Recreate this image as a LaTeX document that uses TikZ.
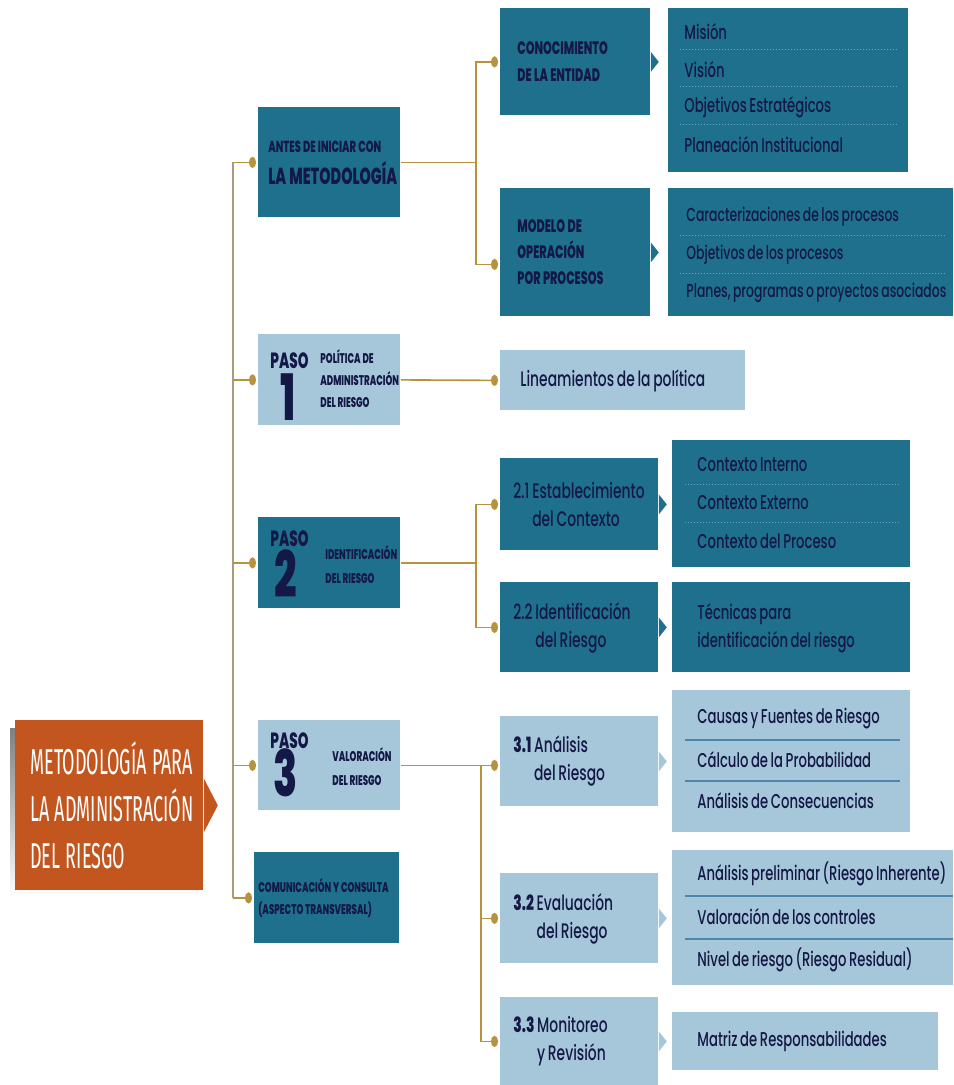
\documentclass[tikz,border=0pt]{standalone}
\usepackage{fontspec}
\setmainfont{Poppins}[FakeStretch=0.66, WordSpace=0.75]
\IfFontExistsTF{Poppins ExtraBold}
  {\newfontfamily\headfont{Poppins}[BoldFont=Poppins ExtraBold, FakeStretch=0.62, WordSpace=1.1]}
  {\newfontfamily\headfont{Poppins}[FakeStretch=0.62, WordSpace=1.1]}
\IfFontExistsTF{Poppins Medium}
  {\newfontfamily\medfont{Poppins Medium}[FakeStretch=0.66, WordSpace=0.75]}
  {\newfontfamily\medfont{Poppins}[FakeStretch=0.66, WordSpace=0.75]}
\newfontfamily\titlefont{Fira Sans}[FakeStretch=0.5, WordSpace=1.1]
\usetikzlibrary{arrows.meta}

\definecolor{tealbox}{RGB}{30,112,140}
\definecolor{skybox}{RGB}{166,199,217}
\definecolor{navy}{RGB}{20,24,70}
\definecolor{rust}{RGB}{194,86,30}
\definecolor{shade}{RGB}{150,190,215}
\definecolor{gold}{RGB}{184,146,62}
\definecolor{trunkc}{RGB}{170,155,125}
\definecolor{sepdark}{RGB}{110,165,190}
\definecolor{seplight}{RGB}{75,135,172}

\begin{document}
\begin{tikzpicture}[x=0.5pt, y=-0.5pt,
    box/.style={anchor=north west, inner sep=0pt},
    dark/.style={box, fill=tealbox},
    light/.style={box, fill=skybox},
    sz/.style 2 args={minimum width=#1*0.5pt, minimum height=#2*0.5pt},
    txt/.style={anchor=west, inner sep=0pt, text=navy, align=left},
    head/.style 2 args={font=\headfont\bfseries\fontsize{#1}{#2}\selectfont},
    sub/.style={font=\medfont\fontsize{10.5}{14}\selectfont},
    item/.style={txt, font=\medfont\fontsize{10}{14}\selectfont},
    pasolbl/.style={anchor=base west, inner sep=0pt, text=navy, head={11}{11}},
    pasonum/.style={anchor=base, inner sep=0pt, text=navy, head={32}{32}},
    pasottl/.style={txt, head={7}{#1}},
    link/.style={gold, line width=0.8pt, shorten >=1pt,
                 -{Ellipse[length=3.5pt,width=5.5pt]}},
    trunk/.style={trunkc, line width=0.7pt},
    sepd/.style={sepdark, line width=0.5pt, densely dotted},
    sepl/.style={seplight, line width=0.6pt}]

  \useasboundingbox (0,0) rectangle (953,1085);

  % main box
  \fill[shade] (10,728) rectangle (198,897);
  \node[box, fill=rust, sz={188}{170}] (main) at (15,720) {};
  \fill[rust] ([yshift=13.5pt]main.east) -- ([xshift=7pt]main.east)
              -- ([yshift=-13.5pt]main.east) -- cycle;
  \node[txt, text=white, font=\titlefont\fontsize{18}{23.5}\selectfont] (main-t)
        at ([xshift=7.5pt]main.west) {METODOLOGÍA PARA\\LA ADMINISTRACIÓN\\DEL RIESGO};

  % first column
  \node[dark, sz={142}{110}] (antes) at (258,107) {};
  \node[light, sz={142}{91}] (paso1) at (258,334) {};
  \node[dark, sz={142}{91}] (paso2) at (258,517) {};
  \node[light, sz={142}{90}] (paso3) at (258,720) {};
  \node[dark, sz={145}{91}] (com) at (254,852) {};

  \node[txt, head={8}{16}] (antes-t) at ([xshift=5pt]antes.west)
        {ANTES DE INICIAR CON\\{\fontsize{11.6}{16}\selectfont LA METODOLOGÍA}};
  \node[txt, head={7}{11}] (com-t) at ([xshift=2pt]com.west)
        {COMUNICACIÓN Y CONSULTA\\(ASPECTO TRANSVERSAL)};

  \node[pasolbl] (p1w) at ([shift={(12,34)}]paso1.north west) {PASO};
  \node[pasonum] (p1n) at ([shift={(30,86)}]paso1.north west) {1};
  \node[pasottl=11] (p1t) at ([shift={(62,45)}]paso1.north west)
        {POLÍTICA DE\\ADMINISTRACIÓN\\DEL RIESGO};
  \node[pasolbl] (p2w) at ([shift={(12,29)}]paso2.north west) {PASO};
  \node[pasonum] (p2n) at ([shift={(28,80)}]paso2.north west) {2};
  \node[pasottl=12] (p2t) at ([shift={(67,48)}]paso2.north west)
        {IDENTIFICACIÓN\\DEL RIESGO};
  \node[pasolbl] (p3w) at ([shift={(12,28)}]paso3.north west) {PASO};
  \node[pasonum] (p3n) at ([shift={(28,76)}]paso3.north west) {3};
  \node[pasottl=12] (p3t) at ([shift={(74,47)}]paso3.north west)
        {VALORACIÓN\\DEL RIESGO};

  % second column
  \node[dark, sz={150}{107}] (ent) at (500,8) {};
  \node[dark, sz={150}{128}] (ope) at (500,188) {};
  \node[light, sz={245}{60}] (lin) at (500,350) {};
  \node[dark, sz={158}{92}] (ctx) at (500,458) {};
  \node[dark, sz={158}{90}] (idr) at (500,582) {};
  \node[light, sz={158}{90}] (ana) at (500,716) {};
  \node[light, sz={158}{90}] (eva) at (500,873) {};
  \node[light, sz={158}{88}] (mon) at (500,997) {};

  \foreach \n/\c in {ent/tealbox, ope/tealbox, ctx/tealbox, idr/tealbox,
                     ana/skybox, eva/skybox, mon/skybox}
    \fill[\c] ([yshift=5pt]\n.east) -- ([xshift=4pt]\n.east)
              -- ([yshift=-5pt]\n.east) -- cycle;

  \node[txt, head={9}{13.5}] (ent-t) at ([xshift=8.5pt]ent.west) {CONOCIMIENTO\\DE LA ENTIDAD};
  \node[txt, head={9}{13}] (ope-t) at ([xshift=8.5pt]ope.west) {MODELO DE\\OPERACIÓN\\POR PROCESOS};
  \node[txt, sub] (lin-t) at ([xshift=10pt]lin.west) {Lineamientos de la política};
  \node[txt, sub] (ctx-t) at ([xshift=6.5pt]ctx.west)
        {2.1 Establecimiento\\\phantom{2.1 }del Contexto};
  \node[txt, sub] (idr-t) at ([xshift=6.5pt]idr.west)
        {2.2 Identificación\\\phantom{2.2 }del Riesgo};
  \node[txt, sub] (ana-t) at ([xshift=6.5pt]ana.west)
        {\textbf{3.1} Análisis\\\phantom{\textbf{3.1} }del Riesgo};
  \node[txt, sub] (eva-t) at ([xshift=6.5pt]eva.west)
        {\textbf{3.2} Evaluación\\\phantom{\textbf{3.2} }del Riesgo};
  \node[txt, sub] (mon-t) at ([xshift=6.5pt]mon.west)
        {\textbf{3.3} Monitoreo\\\phantom{\textbf{3.3} }y Revisión};

  % third column
  \node[dark, sz={240}{164}] (l1) at (668,8) {};
  \node[dark, sz={285}{128}] (l2) at (668,188) {};
  \node[dark, sz={238}{127}] (l3) at (672,440) {};
  \node[dark, sz={238}{90}] (l4) at (672,582) {};
  \node[light, sz={238}{142}] (l5) at (672,690) {};
  \node[light, sz={281}{135}] (l6) at (672,850) {};
  \node[light, sz={266}{58}] (l7) at (672,1012) {};

  \foreach \y in {50,87,125} \draw[sepd] (680,\y) -- (897,\y);
  \foreach \y in {236,274} \draw[sepd] (680,\y) -- (945,\y);
  \foreach \y in {484,522} \draw[sepd] (685,\y) -- (900,\y);
  \foreach \y in {740,781} \draw[sepl] (685,\y) -- (900,\y);
  \foreach \y in {896,939} \draw[sepl] (685,\y) -- (953,\y);

  \foreach \t [count=\i] in {Misión, Visión, Objetivos Estratégicos, Planeación Institucional}
    \node[item] (l1-\i) at (684,{-5.5+37.5*\i}) {\t};
  \foreach \t [count=\i] in {Caracterizaciones de los procesos, Objetivos de los procesos,
                             {Planes, programas o proyectos asociados}}
    \node[item, font=\medfont\fontsize{9.4}{14}\selectfont] (l2-\i) at (686,{179+38*\i}) {\t};
  \foreach \t [count=\i] in {Contexto Interno, Contexto Externo, Contexto del Proceso}
    \node[item] (l3-\i) at (697,{427+38*\i}) {\t};
  \node[item] (l4-1) at (697,628) {Técnicas para\\identificación del riesgo};
  \foreach \t [count=\i] in {Causas y Fuentes de Riesgo, Cálculo de la Probabilidad,
                             Análisis de Consecuencias}
    \node[item] (l5-\i) at (697,{678+41*\i}) {\t};
  \foreach \t [count=\i] in {Análisis preliminar (Riesgo Inherente), Valoración de los controles,
                             Nivel de riesgo (Riesgo Residual)}
    \node[item] (l6-\i) at (697,{831+43*\i}) {\t};
  \node[item] (l7-1) at (697,1041) {Matriz de Responsabilidades};

  % connectors
  \coordinate (tk) at (233,0);
  \draw[trunk] (antes.west -| tk) -- (com.west -| tk);
  \foreach \n in {antes,paso1,paso2,paso3,com}
    \draw[link] (\n.west -| tk) -- (\n.west);

  \draw[link] (antes.east) -- ++(75,0) |- (ent.west);
  \draw[link] (antes.east) -- ++(75,0) |- ([yshift=-6pt]ope.west);
  \draw[link] (paso1.east) -- (lin.west);
  \draw[link] (paso2.east) -- ++(75,0) |- (ctx.west);
  \draw[link] (paso2.east) -- ++(75,0) |- (idr.west);
  \draw[link] (paso3.east) -- (ana.west |- paso3.east);
  \draw[link] (paso3.east) ++(80,0) |- (eva.west);
  \draw[link] (paso3.east) ++(80,0) |- (mon.west);
\end{tikzpicture}
\end{document}
